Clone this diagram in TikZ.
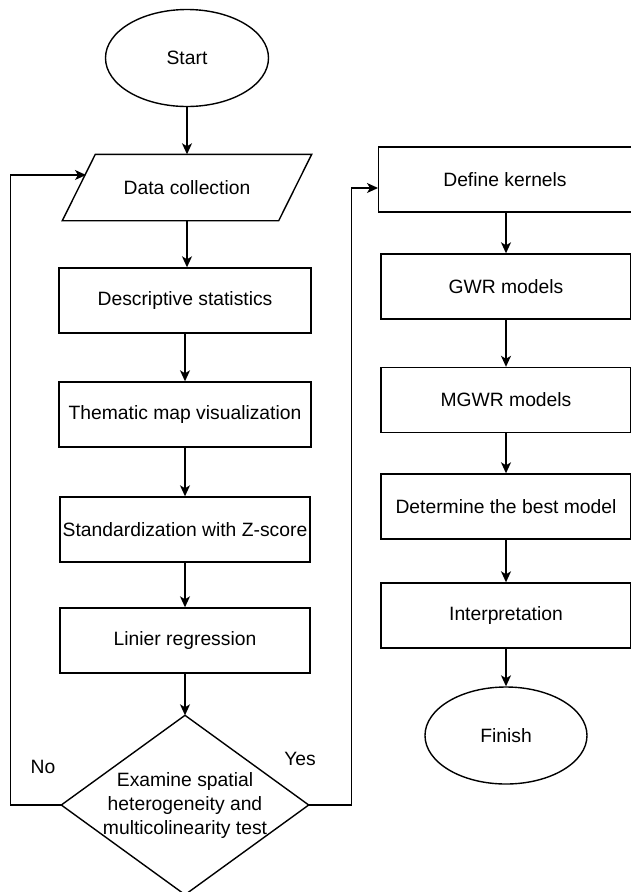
\documentclass[tikz,border=0pt]{standalone}
\usepackage{fontspec}
\setmainfont{Liberation Sans}
\usetikzlibrary{shapes.geometric,arrows.meta}
\begin{document}
\begin{tikzpicture}[x=1pt,y=-1pt,
  every node/.style={font=\fontsize{19.3}{24}\selectfont, inner sep=0pt, line width=1.4pt},
  procbox/.style={draw, rectangle, minimum width=250pt, minimum height=65pt},
  term/.style={draw, ellipse, minimum width=163pt, minimum height=97pt},
  arr/.style={line width=1.4pt, -{Stealth[length=11pt,width=10pt,inset=3pt]}},
  lbl/.style={font=\fontsize{19.3}{24}\selectfont}]
\useasboundingbox (0,0) rectangle (630,892);
% left column
\node[term] (start) at (187,58) {Start};
\node[minimum width=248pt, minimum height=65pt] (data) at (187,187.5) {Data collection};
\draw[line width=1.4pt] ([xshift=33pt]data.north west) -- (data.north east) -- ([xshift=-33pt]data.south east) -- (data.south west) -- cycle;
\node[procbox, minimum width=252pt] (desc) at (185,300.5) {Descriptive statistics};
\node[procbox, minimum width=252pt] (them) at (185,414.5) {Thematic map visualization};
\node[procbox] (std) at (185,529.5) {Standardization with Z-score};
\node[procbox] (lin) at (185,640.5) {Linier regression};
\node[rectangle, minimum width=246pt, minimum height=178pt, align=center] (dia) at (185,805) {Examine spatial\\heterogeneity and\\multicolinearity test};
\draw[line width=1.4pt] (dia.north) -- (dia.east) -- (dia.south) -- (dia.west) -- cycle;
% right column
\node[procbox, minimum width=253pt] (dk) at (505,179.5) {Define kernels};
\node[procbox] (gwr) at (506,286.5) {GWR models};
\node[procbox] (mgwr) at (506,400) {MGWR models};
\node[procbox] (best) at (506,506.5) {Determine the best model};
\node[procbox] (interp) at (506,615.5) {Interpretation};
\node[term, minimum width=162pt] (fin) at (506,735.5) {Finish};
% coordinates
\coordinate (datain) at (86,175);
\coordinate (dkin) at (378,188);
% connectors
\draw[arr] (start.south) -- (start.south |- data.north);
\draw[arr] (data.south) -- (data.south |- desc.north);
\draw[arr] (desc) -- (them);
\draw[arr] (them) -- (std);
\draw[arr] (std) -- (lin);
\draw[arr] (lin.south) -- (dia.north);
\draw[arr] (dia.west) -- ++(-51,0) |- (datain);
\draw[arr] (dia.east) -- ++(43,0) |- (dkin);
\draw[arr] (dk.south -| gwr.north) -- (gwr.north);
\draw[arr] (gwr) -- (mgwr);
\draw[arr] (mgwr) -- (best);
\draw[arr] (best) -- (interp);
\draw[arr] (interp) -- (fin);
% labels
\node[lbl] (no) at (43,767) {No};
\node[lbl] (yes) at (300,759) {Yes};
\end{tikzpicture}
\end{document}
